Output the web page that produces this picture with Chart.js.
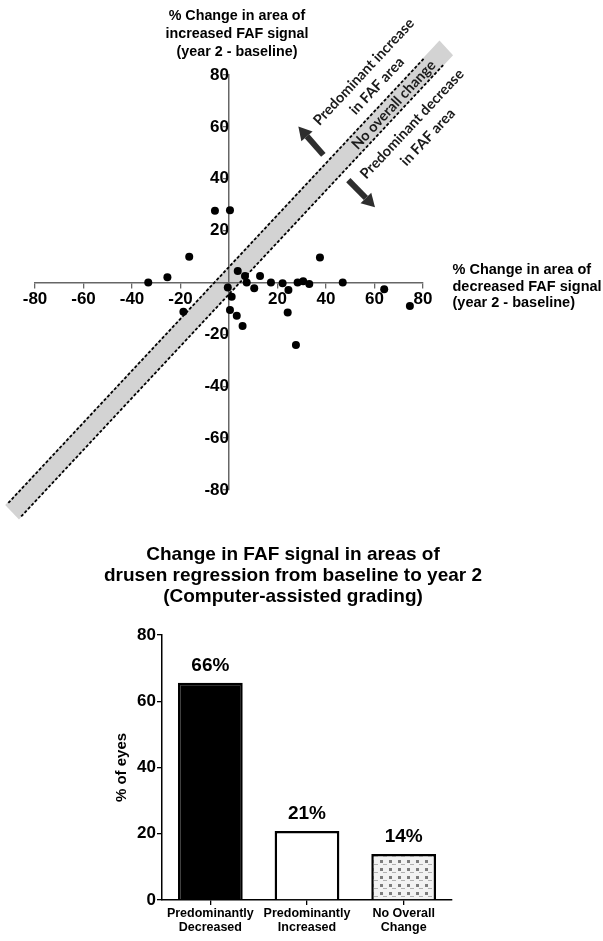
<!DOCTYPE html>
<html lang="en">
<head>
<meta charset="UTF-8" />
<title>FAF signal change</title>
<script src="https://cdn.jsdelivr.net/npm/chart.js"></script>
<style>
  body { margin: 0; background: #fff; }
  #wrap { position: relative; width: 603px; height: 941px; }
  #scatterBox { position: absolute; left: 0; top: 0; width: 603px; height: 530px; }
  #barBox { position: absolute; left: 0; top: 530px; width: 603px; height: 411px; }
</style>
</head>
<body>
<div id="wrap">
  <div id="scatterBox"><canvas id="scatterChart"></canvas></div>
  <div id="barBox"><canvas id="barChart"></canvas></div>
</div>

<script>
  // ---- top plot: % change decreased FAF (x) vs increased FAF (y)
  const decreasedChange = [-5.8, 0.4, -16.4, -25.4, -33.3, -18.8, 3.6, 6.6, 7.3, 12.8, 10.4, -0.5, 1.1, 0.4,
                           3.2, 5.6, 17.3, 22.1, 24.5, 24.2, 28.3, 30.6, 33.1, 37.5, 46.9, 64.0, 74.6, 27.6];
  const increasedChange = [27.7, 27.9, 9.9, 2.0, 0, -11.3, 4.4, 2.5, 0, 2.5, -2.2, -1.9, -5.5, -10.6,
                           -12.8, -16.8, 0, -0.3, -2.9, -11.6, 0, 0.5, -0.6, 9.6, 0, -2.6, -9.1, -24.1];
  const axisTicks = [-80, -60, -40, -20, 0, 20, 40, 60, 80];

  // "no overall change" band (data units) and its dashed edges
  const bandX = [-92.3, 86.8, 92.4, -86.6];
  const bandY = [-85.8, 93.3, 87.6, -91.4];
  const upperEdgeX = [-91, 80.5];
  const upperEdgeY = [-85, 86.5];
  const lowerEdgeX = [-85.7, 88.3];
  const lowerEdgeY = [-90.2, 83.8];

  const arrowFrom = [[38.9, 49.2], [49.2, 39.5]];
  const arrowTo = [[28.6, 60.1], [60.2, 29.0]];

  const bandNotes = ['Predominant increase', 'in FAF area', 'No overall change', 'Predominant decrease', 'in FAF area'];
  const bandNoteX = [55.6, 61.0, 67.9, 75.5, 82.0];
  const bandNoteY = [81.2, 75.8, 68.5, 61.1, 56.0];

  const yTitle = ['% Change in area of', 'increased FAF signal', '(year 2 - baseline)'];
  const xTitle = ['% Change in area of', 'decreased FAF signal', '(year 2 - baseline)'];

  // ---- bottom plot
  const outcomeLabels = [['Predominantly', 'Decreased'], ['Predominantly', 'Increased'], ['No Overall', 'Change']];
  const eyesPercent = [65.6, 20.8, 13.9];
  const percentLabels = ['66%', '21%', '14%'];
  const barTicks = [0, 20, 40, 60, 80];
  const barTitle = ['Change in FAF signal in areas of', 'drusen regression from baseline to year 2', '(Computer-assisted grading)'];

  const FONT = "'Liberation Sans', Arial, sans-serif";
  Chart.defaults.font.family = FONT;
  Chart.defaults.color = '#000';

  const toPts = (xs, ys) => xs.map((v, i) => ({x: v, y: ys[i]}));

  const scatterDecor = {
    id: 'scatterDecor',
    beforeDraw(chart) {
      const {ctx, scales: {x, y}} = chart;
      ctx.save();
      ctx.fillStyle = '#d3d3d3';
      ctx.beginPath();
      bandX.forEach((v, i) => {
        const px = x.getPixelForValue(v), py = y.getPixelForValue(bandY[i]);
        if (i) ctx.lineTo(px, py); else ctx.moveTo(px, py);
      });
      ctx.closePath();
      ctx.fill();
      ctx.restore();
    },
    afterDraw(chart) {
      const {ctx, scales: {x, y}} = chart;
      ctx.save();

      // arrows
      ctx.fillStyle = '#2e2e2e';
      ctx.strokeStyle = '#2e2e2e';
      arrowFrom.forEach((a, i) => {
        const x0 = x.getPixelForValue(a[0]), y0 = y.getPixelForValue(a[1]);
        const x1 = x.getPixelForValue(arrowTo[i][0]), y1 = y.getPixelForValue(arrowTo[i][1]);
        const ang = Math.atan2(y1 - y0, x1 - x0);
        const head = 13;
        const bx = x1 - head * Math.cos(ang), by = y1 - head * Math.sin(ang);
        ctx.lineWidth = 6;
        ctx.beginPath();
        ctx.moveTo(x0, y0);
        ctx.lineTo(bx, by);
        ctx.stroke();
        ctx.beginPath();
        ctx.moveTo(x1, y1);
        ctx.lineTo(bx + 7.5 * Math.sin(ang), by - 7.5 * Math.cos(ang));
        ctx.lineTo(bx - 7.5 * Math.sin(ang), by + 7.5 * Math.cos(ang));
        ctx.closePath();
        ctx.fill();
      });

      // rotated notes along the band
      const rot = Math.atan2(y.getPixelForValue(1) - y.getPixelForValue(0), x.getPixelForValue(1) - x.getPixelForValue(0));
      ctx.fillStyle = '#1a1a1a';
      ctx.font = "bold 14.5px Lato, 'Open Sans', sans-serif";
      ctx.textAlign = 'center';
      ctx.textBaseline = 'middle';
      bandNotes.forEach((t, i) => {
        ctx.save();
        ctx.translate(x.getPixelForValue(bandNoteX[i]), y.getPixelForValue(bandNoteY[i]));
        ctx.rotate(rot);
        ctx.fillText(t, 0, 0);
        ctx.restore();
      });

      // axis titles
      ctx.fillStyle = '#000';
      ctx.font = 'bold 14.3px ' + FONT;
      yTitle.forEach((t, i) => ctx.fillText(t, 237, 16 + i * 18));
      ctx.textAlign = 'left';
      ctx.font = 'bold 14.5px ' + FONT;
      xTitle.forEach((t, i) => ctx.fillText(t, 452.5, 270 + i * 16.7));
      ctx.restore();
    }
  };

  const axisOpts = (pos) => ({
    type: 'linear',
    min: -80,
    max: 80,
    position: pos,
    afterBuildTicks: s => { s.ticks = axisTicks.map(v => ({value: v})); },
    ticks: {
      callback: v => v === 0 ? '' : v,
      font: {size: 17, weight: 'bold'},
      color: '#000',
      padding: 2,
      autoSkip: false,
      maxRotation: 0
    },
    grid: { drawOnChartArea: false, tickLength: 5, color: '#666', lineWidth: 1.3 },
    border: { color: '#666', width: 1.5 }
  });

  new Chart(document.getElementById('scatterChart'), {
    type: 'scatter',
    data: {
      datasets: [
        {
          data: toPts(decreasedChange, increasedChange),
          backgroundColor: '#000',
          borderWidth: 0,
          pointRadius: 4,
          pointHoverRadius: 4
        },
        {
          data: toPts(upperEdgeX, upperEdgeY),
          showLine: true,
          borderColor: '#000',
          borderWidth: 1.8,
          borderDash: [3, 2],
          pointRadius: 0,
          clip: false
        },
        {
          data: toPts(lowerEdgeX, lowerEdgeY),
          showLine: true,
          borderColor: '#000',
          borderWidth: 1.8,
          borderDash: [3, 2],
          pointRadius: 0,
          clip: false
        }
      ]
    },
    options: {
      responsive: true,
      maintainAspectRatio: false,
      animation: false,
      layout: { padding: { left: 35, right: 180, top: 75, bottom: 40 } },
      plugins: { legend: { display: false }, tooltip: { enabled: false } },
      scales: {
        x: axisOpts({y: 0}),
        y: axisOpts({x: 0})
      }
    },
    plugins: [scatterDecor]
  });

  // dotted fill for the "No Overall Change" bar
  function dotPattern(target) {
    const c = document.createElement('canvas');
    c.width = 9; c.height = 8;
    const g = c.getContext('2d');
    g.fillStyle = '#f2f2f2';
    g.fillRect(0, 0, 9, 8);
    g.fillStyle = '#7c7c7c';
    g.fillRect(2, 2, 3, 3);
    g.fillStyle = '#b0b0b0';
    g.fillRect(5, 6, 4, 1);
    return target.getContext('2d').createPattern(c, 'repeat');
  }

  const barDecor = {
    id: 'barDecor',
    afterDatasetsDraw(chart) {
      const {ctx} = chart;
      const meta = chart.getDatasetMeta(0);
      ctx.save();
      ctx.fillStyle = '#000';
      ctx.textAlign = 'center';
      ctx.textBaseline = 'middle';
      ctx.font = 'bold 19px ' + FONT;
      meta.data.forEach((bar, i) => ctx.fillText(percentLabels[i], bar.x, bar.y - 17));
      ctx.font = 'bold 19px ' + FONT;
      barTitle.forEach((t, i) => ctx.fillText(t, 293, 25 + i * 21));
      ctx.restore();
    }
  };

  const barCanvas = document.getElementById('barChart');
  new Chart(barCanvas, {
    type: 'bar',
    data: {
      labels: outcomeLabels,
      datasets: [{
        data: eyesPercent,
        backgroundColor: ['#000', '#fff', dotPattern(barCanvas)],
        borderColor: '#000',
        borderWidth: 2.5,
        barPercentage: 0.67,
        categoryPercentage: 1
      }]
    },
    options: {
      responsive: true,
      maintainAspectRatio: false,
      animation: false,
      layout: { padding: { left: 100, right: 151, top: 105, bottom: 0 } },
      plugins: { legend: { display: false }, tooltip: { enabled: false } },
      scales: {
        x: {
          afterFit: s => { s.height = 41; },
          grid: { offset: false, drawOnChartArea: false, tickLength: 5, color: '#000', lineWidth: 1.3 },
          border: { color: '#000', width: 1.5 },
          ticks: { font: { size: 12.5, weight: 'bold', lineHeight: 1.1 }, color: '#000', padding: 2, maxRotation: 0, autoSkip: false }
        },
        y: {
          min: 0,
          max: 80,
          afterFit: s => { s.width = 62; },
          afterBuildTicks: s => { s.ticks = barTicks.map(v => ({value: v})); },
          grid: { drawOnChartArea: false, tickLength: 5, color: '#000', lineWidth: 1.3 },
          border: { color: '#000', width: 1.5 },
          ticks: { font: { size: 17, weight: 'bold' }, color: '#000', padding: 1 },
          title: { display: true, text: '% of eyes', font: { size: 15, weight: 'bold' }, color: '#000', padding: { top: 13, bottom: 0 } }
        }
      }
    },
    plugins: [barDecor]
  });
</script>
</body>
</html>
